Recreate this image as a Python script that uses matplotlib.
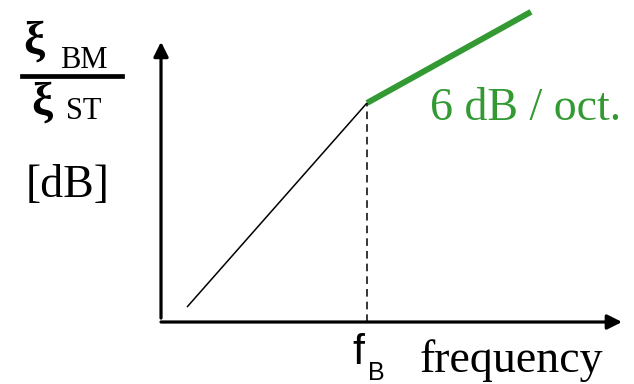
import matplotlib
matplotlib.use("Agg")
import matplotlib.pyplot as plt

# Schematic data (normalised units: knee frequency = 1, level at knee = 1)
low_freq = [0.126, 1.0]
low_level = [0.068, 1.0]
high_freq = [1.0, 1.796]
high_level = [1.0, 1.416]
knee_freq = 1.0
knee_level = 1.0
x_axis_end = 2.238
y_axis_end = 1.279

GREEN = "#339933"

fig = plt.figure(figsize=(6.34, 3.84), dpi=100)
ax = fig.add_axes([0, 0, 1, 1])
ax.set_xlim(-0.7816, 2.296)
ax.set_ylim(-0.283, 1.470)
ax.axis("off")

# axes arrows
ax.annotate("", xy=(x_axis_end, 0), xytext=(0, 0),
            arrowprops=dict(arrowstyle="-|>", lw=2.3, color="black",
                            mutation_scale=22, shrinkA=0, shrinkB=0))
ax.annotate("", xy=(0, y_axis_end), xytext=(0, 0.018),
            arrowprops=dict(arrowstyle="-|>", lw=2.3, color="black",
                            mutation_scale=22, shrinkA=0, shrinkB=0))

# curves
ax.plot(low_freq, low_level, color="black", lw=1.1, solid_capstyle="butt")
ax.plot(high_freq, high_level, color=GREEN, lw=4.3, solid_capstyle="butt")
ax.plot([knee_freq, knee_freq], [0, knee_level], color="black", lw=1.1,
        linestyle=(0, (5, 3.3)))

serif = "Liberation Serif"
sans = "Liberation Sans"

def px(x, y):
    return x / 634, 1 - y / 384

# y label: xi_BM / xi_ST [dB]
fig.text(*px(23, 54), "ξ", family=serif, fontweight="bold", fontsize=34,
         va="baseline", ha="left")
fig.text(*px(60, 68), "BM", family=serif, fontsize=22, va="baseline", ha="left")
fig.add_artist(plt.Line2D([22 / 634, 122 / 634], [1 - 75.5 / 384, 1 - 75.5 / 384],
                          color="black", lw=3.4, transform=fig.transFigure))
fig.text(*px(31, 115), "ξ", family=serif, fontweight="bold", fontsize=34,
         va="baseline", ha="left")
fig.text(*px(66, 119), "ST", family=serif, fontsize=22, va="baseline", ha="left")
fig.text(*px(26, 197), "[dB]", family=serif, fontsize=33, va="baseline", ha="left")

# green slope label
fig.text(*px(430, 120), "6 dB / oct.", family=serif, fontsize=33,
         color=GREEN, va="baseline", ha="left")

# x labels
fig.text(*px(352, 364), "f", family=sans, fontsize=31, va="baseline", ha="left")
fig.text(*px(368, 380), "B", family=sans, fontsize=18, va="baseline", ha="left")
fig.text(*px(420, 372), "frequency", family=serif, fontsize=33,
         va="baseline", ha="left")

fig.savefig("out.png", dpi=100)
